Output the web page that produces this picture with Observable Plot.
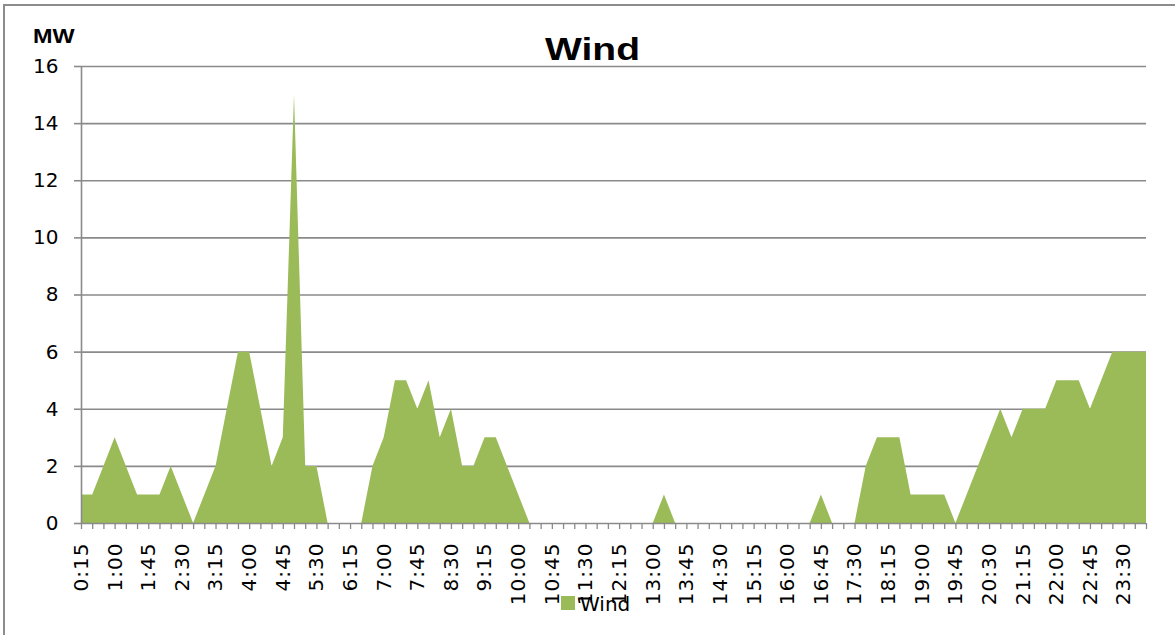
<!DOCTYPE html>
<html>
<head>
<meta charset="utf-8">
<script src="https://cdn.jsdelivr.net/npm/d3@7"></script>
<script src="https://cdn.jsdelivr.net/npm/@observablehq/plot@0.6"></script>
<style>
  html, body { margin: 0; padding: 0; background: #fff; }
  #wrap { position: relative; width: 1175px; height: 635px; overflow: hidden; }
  #border { position: absolute; left: 3px; top: 4px; width: 1180px; height: 640px;
            border-top: 2px solid #8c8c8c; border-left: 2px solid #8c8c8c; box-sizing: border-box; }
  #chart { position: absolute; left: 0; top: 0; }
</style>
</head>
<body>
<div id="wrap"><div id="border"></div><div id="chart"></div></div>
<script>
const times = [
  "0:15","0:30","0:45","1:00","1:15","1:30","1:45","2:00","2:15","2:30","2:45","3:00",
  "3:15","3:30","3:45","4:00","4:15","4:30","4:45","5:00","5:15","5:30","5:45","6:00",
  "6:15","6:30","6:45","7:00","7:15","7:30","7:45","8:00","8:15","8:30","8:45","9:00",
  "9:15","9:30","9:45","10:00","10:15","10:30","10:45","11:00","11:15","11:30","11:45","12:00",
  "12:15","12:30","12:45","13:00","13:15","13:30","13:45","14:00","14:15","14:30","14:45","15:00",
  "15:15","15:30","15:45","16:00","16:15","16:30","16:45","17:00","17:15","17:30","17:45","18:00",
  "18:15","18:30","18:45","19:00","19:15","19:30","19:45","20:00","20:15","20:30","20:45","21:00",
  "21:15","21:30","21:45","22:00","22:15","22:30","22:45","23:00","23:15","23:30","23:45","0:00"
];
const wind = [
  1,1,2,3,2,1,1,1,2,1,0,
  1,2,4,6,6,4,2,3,15,2,2,
  0,0,0,0,
  2,3,5,5,4,5,3,4,2,2,3,3,2,1,0,
  0,0,0,0,0,0,0,0,0,0,0,
  1,
  0,0,0,0,0,0,0,0,0,0,0,0,0,
  1,
  0,0,0,
  2,3,3,3,1,1,1,1,0,
  1,2,3,4,3,4,4,4,5,5,5,4,5,6,6,6,6
];
const labelledTimes = ["0:15","1:00","1:45","2:30","3:15","4:00","4:45","5:30","6:15","7:00","7:45","8:30",
  "9:15","10:00","10:45","11:30","12:15","13:00","13:45","14:30","15:15","16:00","16:45","17:30",
  "18:15","19:00","19:45","20:30","21:15","22:00","22:45","23:30"];
const yTicks = [0,2,4,6,8,10,12,14,16];
const seriesName = "Wind";
const unitLabel = "MW";
const green = "#9BBB59";
const gridColor = "#8a8a8a";

const data = times.map((t, i) => ({i, t, v: wind[i]}));
const allIdx = times.map((t, i) => i);
const labelIdx = labelledTimes.map(t => times.indexOf(t));

const chart = Plot.plot({
  width: 1175,
  height: 635,
  marginLeft: 81,
  marginRight: 29,
  marginTop: 66,
  marginBottom: 112,
  style: {fontFamily: "DejaVu Sans", fontSize: "20px", color: "#000", background: "transparent"},
  x: {type: "linear", domain: [0, times.length - 1], inset: 0, round: false},
  y: {domain: [0, 16], inset: 0},
  marks: [
    Plot.ruleY(yTicks.filter(d => d > 0), {stroke: gridColor, strokeWidth: 1.6}),
    Plot.areaY(data, {x: "i", y: "v", fill: green, curve: "linear"}),
    Plot.ruleY([0], {stroke: gridColor, strokeWidth: 1.6}),
    Plot.ruleX([0], {stroke: gridColor, strokeWidth: 1.6}),
    Plot.axisY({ticks: yTicks, tickSize: 7, tickPadding: 16, label: null, stroke: gridColor, strokeWidth: 1.6}),
    Plot.axisX({ticks: allIdx, tickSize: 6, tickFormat: () => "", label: null, stroke: gridColor, strokeWidth: 1.3}),
    Plot.axisX({ticks: labelIdx, tickSize: 0, tickPadding: 19, tickRotate: -90, label: null, fontSize: 20,
                tickFormat: i => times[i]})
  ]
});
document.getElementById("chart").appendChild(chart);

const svg = d3.select(chart);
svg.selectAll("g[aria-label='x-axis tick label'] text").style("letter-spacing", "1px");

svg.append("text")
  .attr("transform", "translate(592.5,60) scale(1.22,1)")
  .attr("text-anchor", "middle")
  .attr("font-family", "Liberation Sans")
  .attr("font-weight", "bold")
  .attr("font-size", 32)
  .attr("fill", "#000")
  .text(seriesName);

svg.append("text")
  .attr("transform", "translate(33,43) scale(1.2,1)")
  .attr("text-anchor", "start")
  .attr("font-family", "Liberation Sans")
  .attr("font-weight", "bold")
  .attr("font-size", 19.5)
  .attr("fill", "#000")
  .text(unitLabel);

svg.append("rect")
  .attr("x", 561).attr("y", 596).attr("width", 14).attr("height", 14)
  .attr("fill", green);
svg.append("text")
  .attr("x", 580).attr("y", 611)
  .attr("text-anchor", "start")
  .attr("font-family", "DejaVu Sans")
  .attr("font-size", 20)
  .attr("fill", "#000")
  .text(seriesName);
</script>
</body>
</html>
